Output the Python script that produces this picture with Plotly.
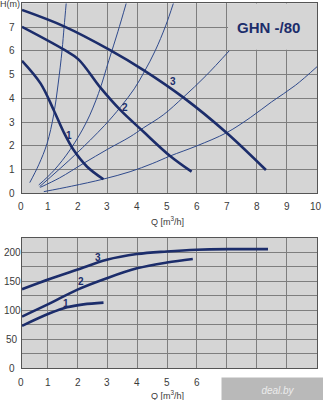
import plotly.graph_objects as go

# ---- pump head curves H(Q), speeds 1..3 ----
q_h1 = [0.14, 0.76, 1.2, 1.53, 1.87, 2.32, 2.87]
h_1 = [5.58, 4.63, 3.51, 2.59, 1.82, 1.12, 0.59]
q_h2 = [0.14, 1.53, 2.03, 2.76, 3.43, 4.21, 5.1, 5.82]
h_2 = [7.01, 6.06, 5.64, 4.46, 3.51, 2.59, 1.57, 0.91]
q_h3 = [0.14, 1.53, 3.09, 4.21, 5.54, 6.99, 8.31]
h_3 = [7.72, 7.04, 6.03, 5.19, 4.04, 2.55, 0.98]

# ---- system characteristic curves ----
q_sa = [0.4, 0.7, 0.98, 1.2, 1.35, 1.48, 1.55, 1.62]
h_sa = [0.45, 1.2, 2.1, 3.3, 4.6, 6.0, 7.0, 8.0]
q_sb = [0.7, 1.2, 1.76, 2.3, 2.7, 3.05, 3.35, 3.63]
h_sb = [0.35, 0.95, 1.85, 3.0, 4.2, 5.6, 6.8, 8.0]
q_sc = [0.73, 1.9, 2.9, 3.45, 3.9, 4.25, 4.6, 4.95, 5.21]
h_sc = [0.28, 1.6, 2.85, 3.65, 4.4, 5.15, 6.0, 7.05, 8.0]
q_sd = [0.75, 1.4, 2.2, 3.0, 3.76, 4.2, 4.87, 5.54, 6.3, 7.08]
h_sd = [0.25, 0.65, 1.26, 1.85, 2.38, 2.75, 3.3, 4.04, 4.95, 6.0]
q_se = [0.87, 1.8, 2.87, 3.76, 4.5, 5.1, 6.0, 6.99, 7.8, 8.5, 9.3, 10.02]
h_se = [0.07, 0.3, 0.6, 0.91, 1.25, 1.57, 2.0, 2.55, 3.2, 3.85, 4.55, 5.33]

# ---- power curves P(Q) ----
q_p1 = [0.14, 1.09, 1.65, 2.2, 2.87]
p_1 = [73, 95, 105, 110, 113]
q_p2 = [0.14, 1.09, 1.98, 2.98, 3.99, 4.99, 5.86]
p_2 = [89, 112, 135, 155, 172, 182, 188]
q_p3 = [0.14, 1.09, 1.98, 2.98, 3.99, 4.99, 5.99, 7.21, 8.38]
p_3 = [136, 154, 169.5, 186.7, 196.5, 201, 204, 205, 205]

speed_labels = ["1", "2", "3"]
head_label_pos = [(1.73, 2.45), (3.6, 3.62), (5.21, 4.7)]
power_label_pos = [(1.62, 111), (2.12, 149), (2.68, 191)]

q_ticks_upper = [0, 1, 2, 3, 4, 5, 6, 7, 8, 9, 10]
q_ticks_lower = [0, 1, 2, 3, 4, 5, 6]
h_ticks = [0, 1, 2, 3, 4, 5, 6, 7]
p_ticks = [0, 50, 100, 150, 200]

NAVY = "#1c2d6b"
THIN = "#2f4a8c"
GRID = "#7e7e7e"
BG = "#d5d5d5"
TXT = "#3a3a3a"
FONT = "Liberation Sans, Arial, sans-serif"

X_LEFT = 0.14
X_RIGHT = 10.02

fig = go.Figure()

for qs, hs in [(q_sa, h_sa), (q_sb, h_sb), (q_sc, h_sc), (q_sd, h_sd), (q_se, h_se)]:
    fig.add_trace(go.Scatter(x=qs, y=hs, mode="lines", xaxis="x", yaxis="y",
                             line=dict(color=THIN, width=1, shape="spline"),
                             hoverinfo="skip"))

for qs, hs in [(q_h1, h_1), (q_h2, h_2), (q_h3, h_3)]:
    fig.add_trace(go.Scatter(x=qs, y=hs, mode="lines", xaxis="x", yaxis="y",
                             line=dict(color=NAVY, width=2.6, shape="spline"),
                             hoverinfo="skip"))

for qs, ps in [(q_p1, p_1), (q_p2, p_2), (q_p3, p_3)]:
    fig.add_trace(go.Scatter(x=qs, y=ps, mode="lines", xaxis="x2", yaxis="y2",
                             line=dict(color=NAVY, width=2.6, shape="spline"),
                             hoverinfo="skip"))

axis_common = dict(showgrid=True, gridcolor=GRID, gridwidth=1, zeroline=False,
                   showline=True, linecolor="#555555", linewidth=1, mirror=True,
                   showticklabels=False, ticks="")

fig.update_layout(
    width=323, height=400,
    margin=dict(l=22, r=6, t=0, b=0),
    paper_bgcolor="white", plot_bgcolor=BG,
    showlegend=False,
    font=dict(family=FONT, color=TXT, size=10),
    xaxis=dict(domain=[0, 1], range=[X_LEFT, X_RIGHT], tick0=0, dtick=1,
               anchor="y", **axis_common),
    yaxis=dict(domain=[0.51675, 0.99175], range=[0, 8], tick0=0, dtick=1,
               anchor="x", **axis_common),
    xaxis2=dict(domain=[0, 1], range=[X_LEFT, X_RIGHT], tick0=0, dtick=1,
                anchor="y2", **axis_common),
    yaxis2=dict(domain=[0.07925, 0.40625], range=[0, 225], tick0=0, dtick=25,
                anchor="x2", **axis_common),
)

# clear panel behind the model name
fig.add_shape(type="rect", xref="x", yref="y", x0=7.04, x1=X_RIGHT, y0=6.04, y1=8,
              fillcolor=BG, line=dict(width=0), layer="between")

ann = []
ann.append(dict(text="<b>GHN -/80</b>", x=8.41, y=6.98, xref="x", yref="y",
                showarrow=False, font=dict(size=15, color=NAVY, family=FONT)))

for lab, (qx, hy) in zip(speed_labels, head_label_pos):
    ann.append(dict(text="<b>" + lab + "</b>", x=qx, y=hy, xref="x", yref="y",
                    showarrow=False, font=dict(size=10, color=NAVY, family=FONT)))
for lab, (qx, py) in zip(speed_labels, power_label_pos):
    ann.append(dict(text="<b>" + lab + "</b>", x=qx, y=py, xref="x2", yref="y2",
                    showarrow=False, font=dict(size=10, color=NAVY, family=FONT)))

# y tick labels, centred in the left margin
for v in h_ticks:
    ann.append(dict(text=str(v), x=-0.033, y=v, xref="paper", yref="y",
                    xanchor="center", showarrow=False, font=dict(size=10, color=TXT)))
ann.append(dict(text="H(m)", x=-0.042, y=7.95, xref="paper", yref="y",
                xanchor="center", showarrow=False, font=dict(size=9, color=TXT)))
for v in p_ticks:
    ann.append(dict(text=str(v), x=-0.033, y=v, xref="paper", yref="y2",
                    xanchor="center", showarrow=False, font=dict(size=10, color=TXT)))
ann.append(dict(text="P(W)", x=-0.042, y=227, xref="paper", yref="y2",
                xanchor="center", showarrow=False, font=dict(size=9, color=TXT)))


def q_label(v, xref, ypix):
    # the zero label sits at the panel's left edge, just outside the data range
    if v < X_LEFT:
        return dict(text=str(v), x=-0.003, y=1 - ypix / 400, xref="paper",
                    yref="paper", xanchor="center", yanchor="middle",
                    showarrow=False, font=dict(size=10, color=TXT))
    return dict(text=str(v), x=v, y=1 - ypix / 400, xref=xref, yref="paper",
                xanchor="center", yanchor="middle", showarrow=False,
                font=dict(size=10, color=TXT))


for v in q_ticks_upper:
    ann.append(q_label(v, "x", 207))
for v in q_ticks_lower:
    ann.append(q_label(v, "x2", 382))
for yp in (220.5, 395):
    ann.append(dict(text="Q [m<sup>3</sup>/h]", x=5.0, y=1 - yp / 400, xref="x",
                    yref="paper", xanchor="center", yanchor="middle", showarrow=False,
                    font=dict(size=9, color=TXT)))

# site stamp in the lower right corner
ann.append(dict(text="<i>deal.by</i>", x=218 / 323, y=1 - 377 / 400,
                xref="paper", yref="paper", xanchor="left", yanchor="top",
                width=110, height=23, bgcolor="#b9b9b9", showarrow=False,
                font=dict(size=10, color="#ececec"), align="center"))

fig.update_layout(annotations=ann)

fig.write_html("out.html")
